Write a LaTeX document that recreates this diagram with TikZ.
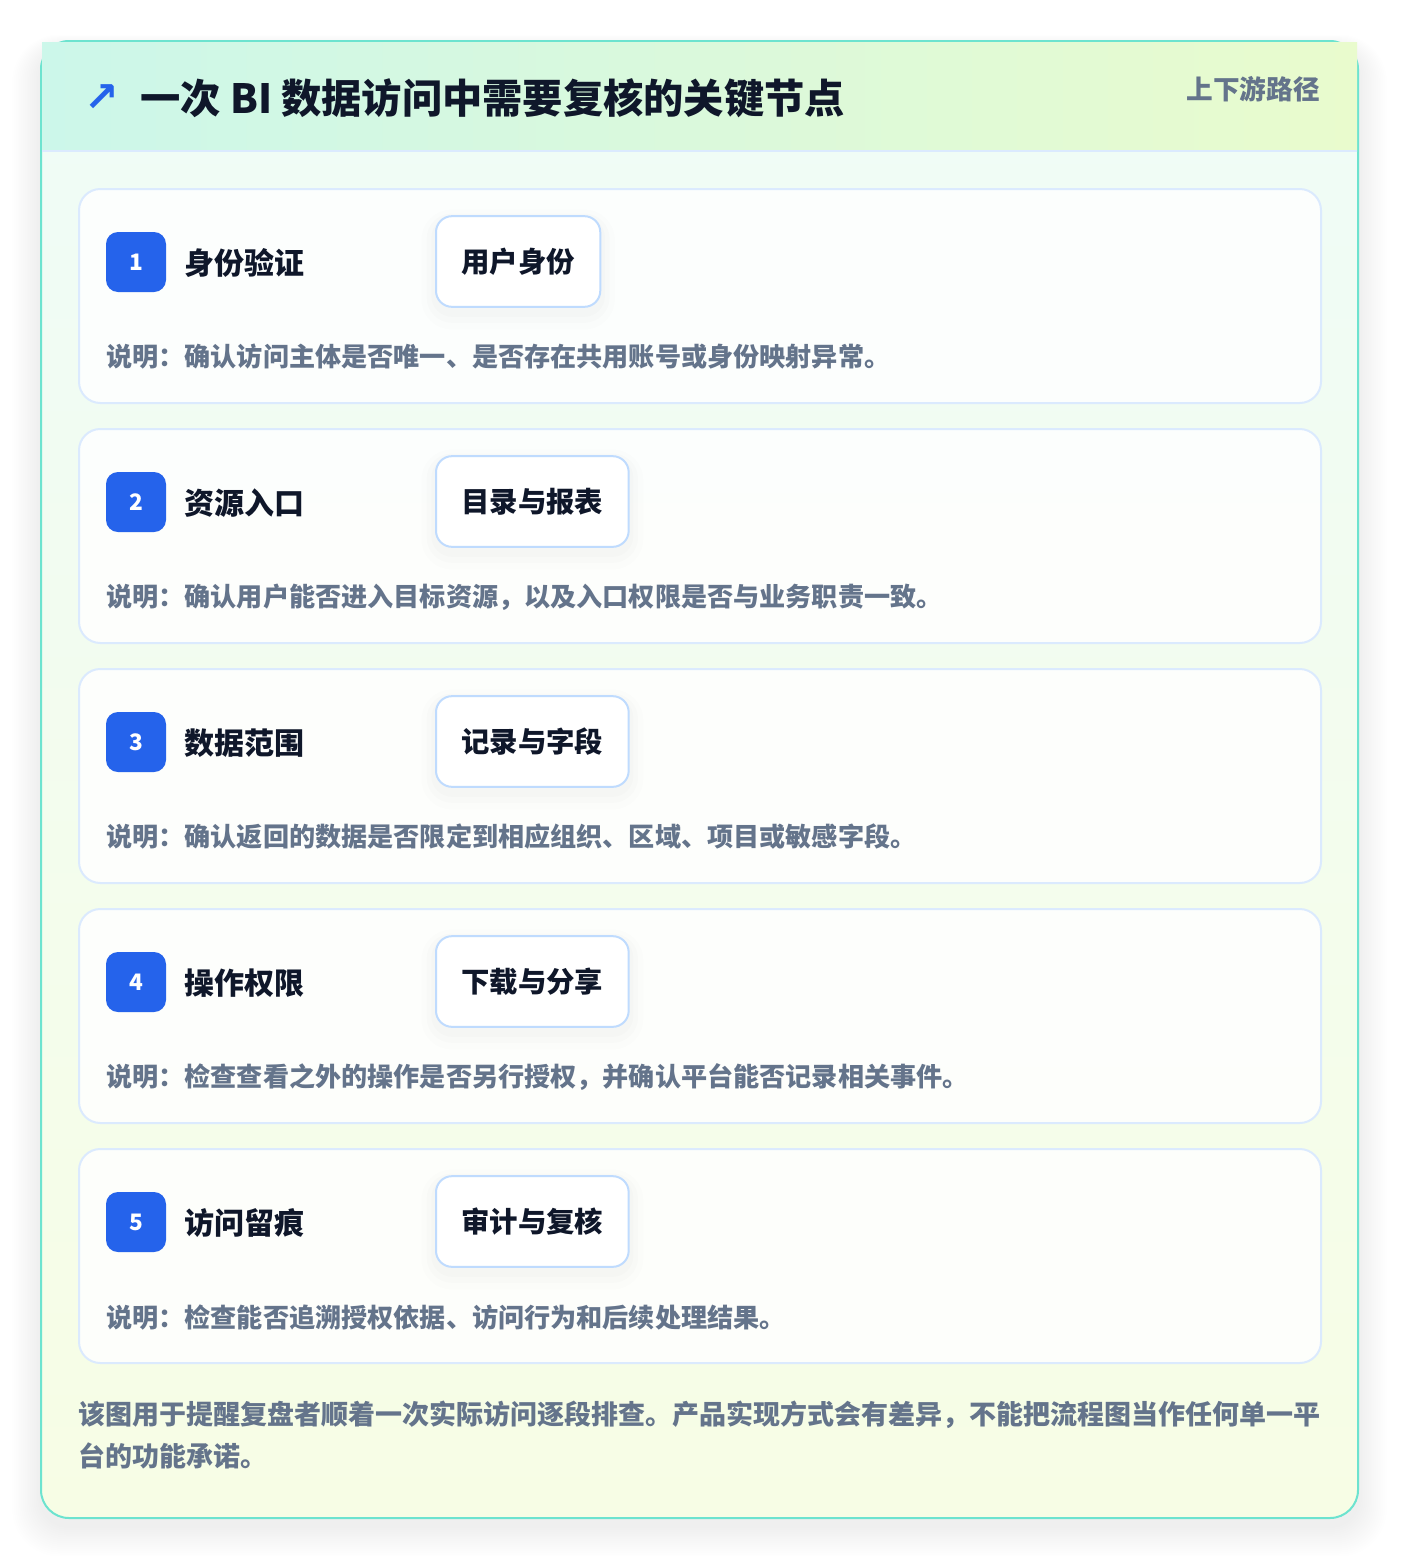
\documentclass[tikz,border=0pt]{standalone}
\usepackage{fontspec}
\setmainfont{Noto Sans CJK SC}
\newfontfamily\symfont{DejaVu Sans}
\usetikzlibrary{positioning}

\definecolor{cardedge}{HTML}{6DE3CF}
\definecolor{headleft}{HTML}{CCF7EA}
\definecolor{headright}{HTML}{E9FBCD}
\definecolor{bodytop}{HTML}{EFFCF7}
\definecolor{bodybot}{HTML}{F7FDE5}
\definecolor{stepedge}{HTML}{DBEAFE}
\definecolor{tagedge}{HTML}{BFDBFE}
\definecolor{badgeblue}{HTML}{2563EB}
\definecolor{ink}{HTML}{0F172A}
\definecolor{muted}{HTML}{64748B}

\tikzset{
  stepcard/.style={draw=stepedge, line width=1.5pt, fill=white, fill opacity=0.85, rounded corners=16pt},
  badge/.style={fill=badgeblue, rounded corners=9pt, minimum width=45pt, minimum height=45pt,
    inner sep=0pt, text=white, font=\bfseries\fontsize{17}{17}\selectfont},
  steptitle/.style={anchor=west, inner sep=0pt, text=ink, font=\bfseries\fontsize{22.5}{22.5}\selectfont},
  tagbox/.style={anchor=west, draw=tagedge, line width=1.5pt, fill=white, rounded corners=12pt,
    minimum height=68pt, inner xsep=19pt, text=ink, font=\bfseries\fontsize{21.3}{21.3}\selectfont,
    preaction={draw=black, draw opacity=0.008, line width=22pt, transform canvas={yshift=-6pt}},
    preaction={draw=black, draw opacity=0.01, line width=14pt, transform canvas={yshift=-5pt}},
    preaction={draw=black, draw opacity=0.012, line width=7pt, transform canvas={yshift=-4pt}}},
  desc/.style={anchor=west, inner sep=0pt, text=muted, font=\bfseries\fontsize{19.6}{19.6}\selectfont}
}

\begin{document}
\begin{tikzpicture}[x=0.75pt, y=-0.75pt]
\useasboundingbox (0,0) rectangle (1400,1560);
\fill[white] (0,0) rectangle (1400,1560);
% a soft grey shadow round the outer card, built from faint layers
\foreach \s in {1,...,16} {
  \pgfmathsetmacro\rr{21+\s*0.9}
  \fill[black, opacity=0.0055, rounded corners=\rr pt]
    (41-\s*1.8,41-\s*0.9+8) rectangle (1358+\s*1.8,1518+\s*1.9+8);
}
% the outer card itself
\draw[draw=cardedge, line width=1.5pt, rounded corners=21pt, top color=bodytop, bottom color=bodybot]
  (41,41) rectangle (1358,1518);
% header band, square corners over the card
\shade[left color=headleft, right color=headright] (42,42) rectangle (1357,151);
\draw[stepedge, line width=1.5pt] (42,151) -- (1357,151);
\node[text=badgeblue, font=\symfont\bfseries\fontsize{31}{31}\selectfont] (icon) at (102,98) {↗};
\node[anchor=west, inner sep=0pt, text=ink, font=\bfseries\fontsize{30.2}{30.2}\selectfont]
  (heading) at (140,98) {一次 BI 数据访问中需要复核的关键节点};
\node[anchor=east, inner sep=0pt, text=muted, font=\bfseries\fontsize{20}{20}\selectfont]
  (route) at (1320,89) {上下游路径};
% the five checkpoints, one card each
\foreach \n/\stepname/\tagname/\note [count=\i from 0] in {
  1/身份验证/用户身份/说明：确认访问主体是否唯一、是否存在共用账号或身份映射异常。,
  2/资源入口/目录与报表/说明：确认用户能否进入目标资源，以及入口权限是否与业务职责一致。,
  3/数据范围/记录与字段/说明：确认返回的数据是否限定到相应组织、区域、项目或敏感字段。,
  4/操作权限/下载与分享/说明：检查查看之外的操作是否另行授权，并确认平台能否记录相关事件。,
  5/访问留痕/审计与复核/说明：检查能否追溯授权依据、访问行为和后续处理结果。} {
  \pgfmathsetmacro\ytop{189+240*\i}
  \draw[stepcard] (79,\ytop) rectangle (1321,\ytop+214);
  \node[badge] (badge\n) at (136,\ytop+73) {\n};
  \node[steptitle] (name\n) at (184,\ytop+74) {\stepname};
  \node[tagbox] (tag\n) at (435,\ytop+72.5) {\tagname};
  \node[desc] (note\n) at (106,\ytop+168) {\note};
}
% closing remark under the cards
\node[anchor=north west, inner sep=0pt, align=left, text=muted, font=\bfseries\fontsize{20.25}{31.5}\selectfont]
  (remark) at (78,1401) {该图用于提醒复盘者顺着一次实际访问逐段排查。产品实现方式会有差异，不能把流程图当作任何单一平\\台的功能承诺。};
\end{tikzpicture}
\end{document}
